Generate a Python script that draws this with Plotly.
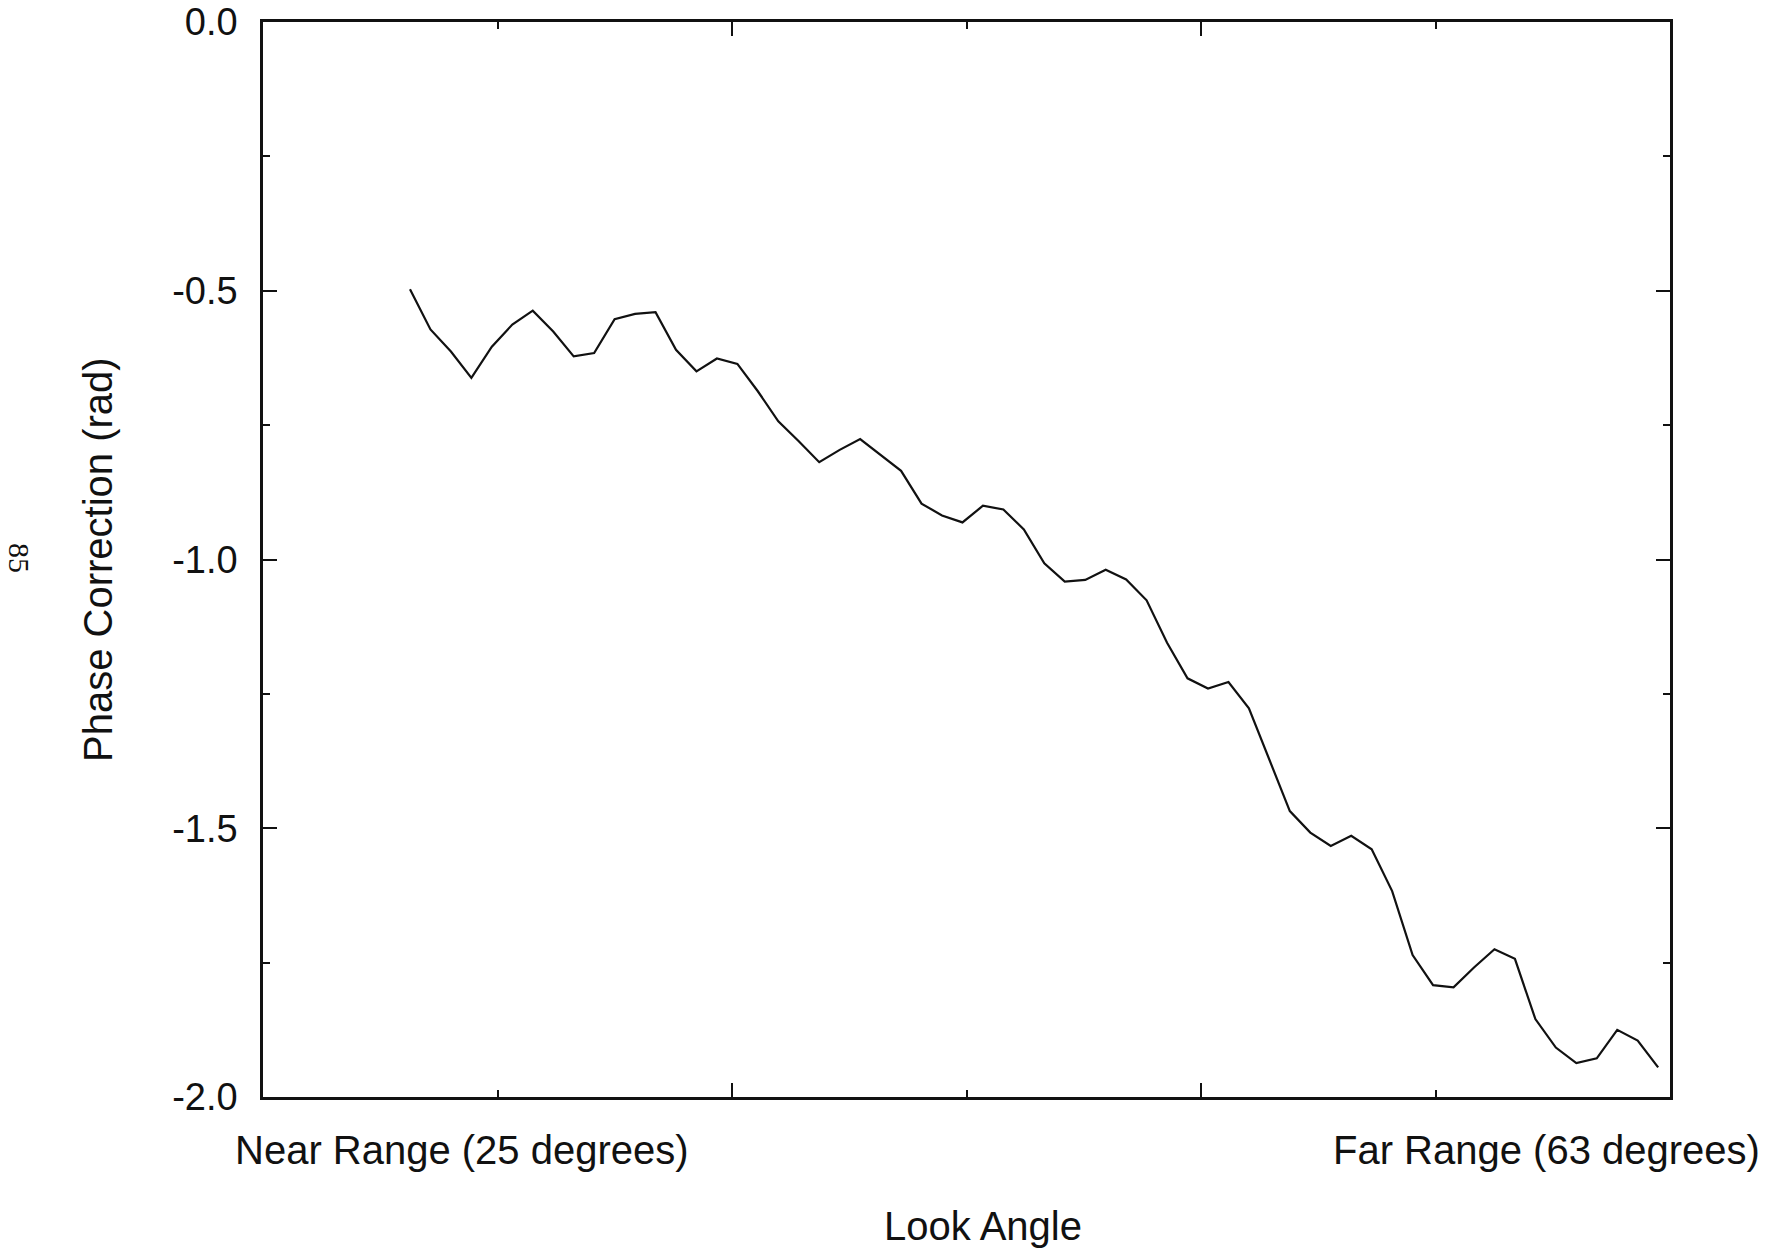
import numpy as np
import plotly.graph_objects as go

# Phase correction profile across the swath (radians), near range -> far range
phase_correction = [
    -0.497, -0.572, -0.613, -0.662, -0.604, -0.563, -0.537, -0.576, -0.622, -0.616,
    -0.553, -0.543, -0.540, -0.610, -0.650, -0.626, -0.636, -0.687, -0.743, -0.780,
    -0.819, -0.796, -0.776, -0.805, -0.835, -0.896, -0.918, -0.931, -0.900, -0.907,
    -0.944, -1.007, -1.041, -1.038, -1.019, -1.037, -1.076, -1.155, -1.221, -1.240,
    -1.228, -1.277, -1.372, -1.468, -1.508, -1.533, -1.514, -1.539, -1.617, -1.736,
    -1.792, -1.796, -1.759, -1.725, -1.743, -1.855, -1.908, -1.937, -1.928, -1.875,
    -1.895, -1.945,
]

# Look-angle sampling grid (degrees) for the profile samples
first_angle, last_angle = 28.97, 62.68
look_angle = np.linspace(first_angle, last_angle, len(phase_correction))

# Axis extents and tick labels
near_angle, far_angle = 25, 63
y_tick_values = [0.0, -0.5, -1.0, -1.5, -2.0]
y_tick_labels = ["0.0", "-0.5", "-1.0", "-1.5", "-2.0"]

span = far_angle - near_angle
x_major = [near_angle + k * span / 6 for k in (2, 4)]
x_minor = [near_angle + k * span / 6 for k in (1, 3, 5)]

FONT = "Liberation Sans, Arial, Helvetica, sans-serif"
INK = "#111111"

fig = go.Figure()
fig.add_trace(go.Scatter(
    x=look_angle,
    y=phase_correction,
    mode="lines",
    line=dict(color=INK, width=2.2),
    showlegend=False,
    hoverinfo="skip",
))

axis_common = dict(
    showgrid=False,
    zeroline=False,
    showline=True,
    linecolor=INK,
    linewidth=2.5,
    mirror="allticks",
    ticks="inside",
    tickcolor=INK,
    tickwidth=2,
    ticklen=14,
)

fig.update_xaxes(
    **axis_common,
    range=[near_angle, far_angle],
    tickmode="array",
    tickvals=x_major,
    showticklabels=False,
    minor=dict(tickmode="array", tickvals=x_minor, ticks="inside",
               ticklen=7, tickwidth=2, tickcolor=INK),
)

fig.update_yaxes(
    **axis_common,
    range=[-2.0, 0.0],
    tickmode="array",
    tickvals=y_tick_values,
    ticktext=y_tick_labels,
    tickfont=dict(family=FONT, size=38, color=INK),
    ticklabelstandoff=15,
    minor=dict(tickmode="linear", tick0=-0.25, dtick=0.5, ticks="inside",
               ticklen=7, tickwidth=2, tickcolor=INK),
)

L, R, T, B = 263, 1670, 22, 1097
W, H = 1768, 1252


def px_x(p):
    return (p - L) / (R - L)


def px_y(p):
    return (B - p) / (B - T)


annotations = [
    dict(text="Near Range (25 degrees)", x=px_x(462), y=px_y(1150)),
    dict(text="Far Range (63 degrees)", x=px_x(1546), y=px_y(1150)),
    dict(text="Look Angle", x=px_x(983), y=px_y(1226)),
    dict(text="Phase Correction (rad)", x=px_x(98), y=px_y(560), textangle=-90),
]
for a in annotations:
    a.update(xref="paper", yref="paper", xanchor="center", yanchor="middle",
             showarrow=False, font=dict(family=FONT, size=40, color=INK))

# page number printed in the margin
annotations.append(dict(
    text="85", x=px_x(20), y=px_y(558), xref="paper", yref="paper",
    xanchor="center", yanchor="middle", showarrow=False, textangle=90,
    font=dict(family="Liberation Serif, Times New Roman, serif", size=30, color=INK),
))

fig.update_layout(
    width=W,
    height=H,
    margin=dict(l=L, r=W - R, t=T, b=H - B, autoexpand=False),
    paper_bgcolor="white",
    plot_bgcolor="white",
    annotations=annotations,
    showlegend=False,
)

fig.write_html("out.html")
